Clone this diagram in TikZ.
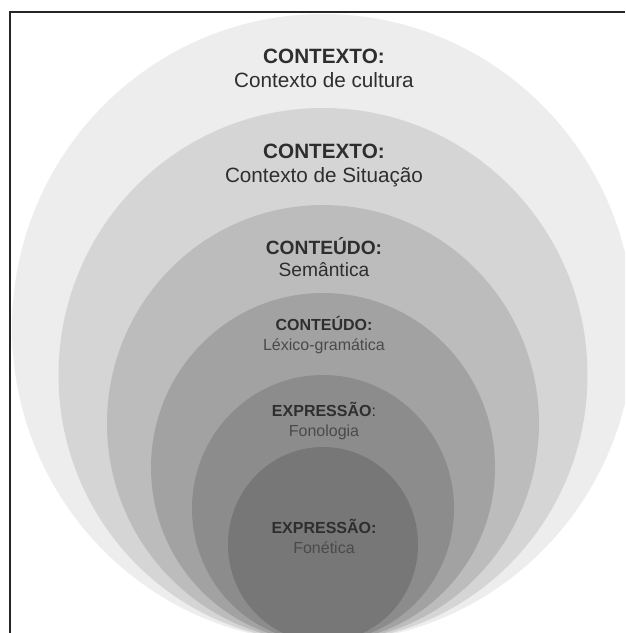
\documentclass[tikz,border=0pt]{standalone}
\usepackage{fontspec}
\setmainfont{Liberation Sans}
\usetikzlibrary{positioning}

\definecolor{ringA}{HTML}{EDEDED}
\definecolor{ringB}{HTML}{D5D5D5}
\definecolor{ringC}{HTML}{BCBCBC}
\definecolor{ringD}{HTML}{A2A2A2}
\definecolor{ringE}{HTML}{8C8C8C}
\definecolor{ringF}{HTML}{777777}
\definecolor{labeldark}{HTML}{2E2E2E}
\definecolor{labelsoft}{HTML}{4A4A4A}

\begin{document}
\begin{tikzpicture}[x=1pt, y=-1pt,
    every node/.style={inner sep=0pt, align=center, text=labeldark},
    bigtext/.style={font=\fontsize{20.7}{24}\selectfont},
    midtext/.style={font=\fontsize{19.2}{22}\selectfont},
    smalltext/.style={font=\fontsize{16}{20}\selectfont},
    frame/.style={draw=black!85, line width=2pt}]
\useasboundingbox (0,0) rectangle (625,633);
\fill[white] (0,0) rectangle (625,633);

% nested rings, all touching just below the bottom edge
\begin{scope}
\clip (0,0) rectangle (625,633);
\fill[ringA] (323,328)   ellipse[x radius=311,   y radius=314];
\fill[ringB] (323,375)   ellipse[x radius=264.5, y radius=267];
\fill[ringC] (323,423.5) ellipse[x radius=216,   y radius=218.5];
\fill[ringD] (323,467.5) ellipse[x radius=172,   y radius=174.5];
\fill[ringE] (323,508.5) ellipse[x radius=131,   y radius=133.5];
\fill[ringF] (323,544.5) ellipse[x radius=95,    y radius=97.5];
\end{scope}

\draw[frame] (9.5,633) -- (9.5,12) -- (625,12);

% labels
\node[bigtext] (cultura) at (324,68)
  {\textbf{CONTEXTO:}\\Contexto de cultura};
\node[bigtext] (situacao) at (324,165)
  {\textbf{CONTEXTO:}\\Contexto de Situação};
\node[midtext] (semantica) at (324,257)
  {\textbf{CONTEÚDO:}\\Semântica};
\node[smalltext] (lexico) at (324,335)
  {\textbf{CONTEÚDO:}\\\textcolor{labelsoft}{Léxico-gramática}};
\node[smalltext] (fonologia) at (324,421)
  {\textbf{EXPRESSÃO}:\\\textcolor{labelsoft}{Fonologia}};
\node[smalltext] (fonetica) at (324,536)
  {\textbf{EXPRESSÃO:}\\\textcolor{labelsoft}{Fonética}};
\end{tikzpicture}
\end{document}
